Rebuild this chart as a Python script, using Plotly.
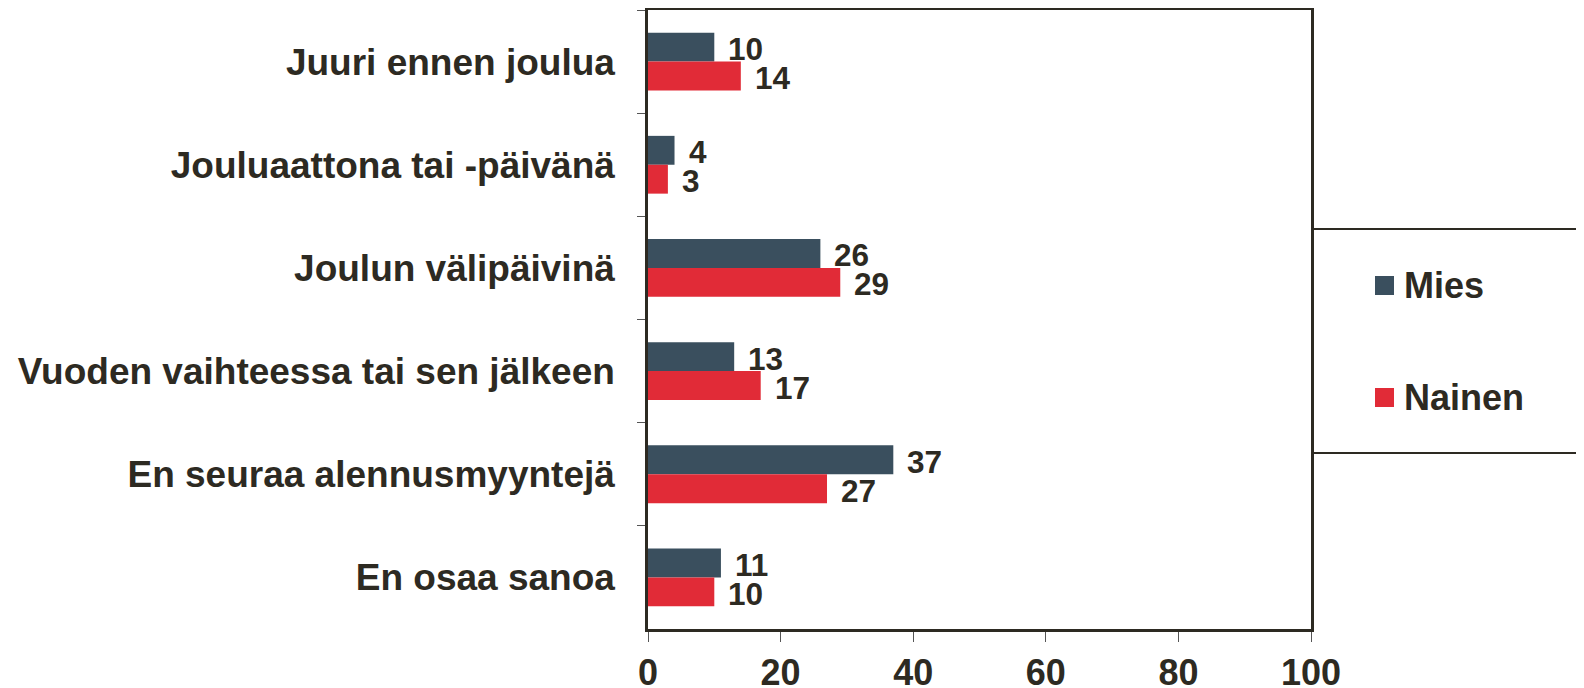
import plotly.graph_objects as go

categories = ["Juuri ennen joulua", "Jouluaattona tai -päivänä", "Joulun välipäivinä",
              "Vuoden vaihteessa tai sen jälkeen", "En seuraa alennusmyyntejä", "En osaa sanoa"]
mies = [10, 4, 26, 13, 37, 11]
nainen = [14, 3, 29, 17, 27, 10]
series_names = ["Mies", "Nainen"]
x_ticks = [0, 20, 40, 60, 80, 100]

COL_MIES = "#3a4f5e"
COL_NAINEN = "#e12b37"
TXT = "#2d2a22"
FONT = "Liberation Sans"

OFF = 8  # page body margin
W, H = 1584 - OFF, 688 - OFF
ML, MR, MT, MB = 648 - OFF, 273, 2, 59
plot_h = H - MT - MB
plot_w = W - ML - MR
BARGAP = 0.44
slot = plot_h / len(categories)
bar_h = slot * (1 - BARGAP) / 2

fig = go.Figure()
for name, vals, col in [(series_names[0], mies, COL_MIES), (series_names[1], nainen, COL_NAINEN)]:
    fig.add_trace(go.Bar(y=categories, x=vals, orientation="h", name=name,
                         marker=dict(color=col, line=dict(width=0)), showlegend=False))

annotations = []
for vals, shift in [(mies, bar_h / 2), (nainen, -bar_h / 2)]:
    for c, v in zip(categories, vals):
        annotations.append(dict(x=v, y=c, xref="x", yref="y", text=str(v), showarrow=False,
                                xanchor="left", yanchor="middle", xshift=12, yshift=shift - 2,
                                font=dict(family=FONT, size=31.5, color=TXT, weight="bold")))

# legend (manual), positions given in page pixels
def py(pix):
    return (H - MB - (pix - OFF)) / plot_h

def px(pix):
    return (pix - OFF - ML) / plot_w

legend_items = [(series_names[0], COL_MIES, 285.5), (series_names[1], COL_NAINEN, 397.5)]
shapes = []
for y0 in (229, 453):
    shapes.append(dict(type="line", xref="paper", yref="paper", x0=1, x1=px(1600),
                       y0=py(y0), y1=py(y0), line=dict(color=TXT, width=2)))
for name, col, cy in legend_items:
    shapes.append(dict(type="rect", xref="paper", yref="paper", x0=px(1375), x1=px(1394),
                       y0=py(cy - 9.5), y1=py(cy + 9.5), fillcolor=col, line=dict(width=0)))
    annotations.append(dict(x=px(1402), y=py(cy), xref="paper", yref="paper", text=name,
                            showarrow=False, xanchor="left", yanchor="middle",
                            font=dict(family=FONT, size=36, color=TXT, weight="bold")))

fig.update_layout(
    width=W, height=H, margin=dict(l=ML, r=MR, t=MT, b=MB, pad=0, autoexpand=False),
    paper_bgcolor="white", plot_bgcolor="white",
    barmode="group", bargap=BARGAP, bargroupgap=0,
    font=dict(family=FONT, color=TXT),
    showlegend=False,
    shapes=shapes, annotations=annotations,
    xaxis=dict(range=[0, 100], tickvals=x_ticks, ticks="outside", ticklen=10, tickwidth=1,
               tickcolor="#555555", showgrid=False, zeroline=False, automargin=False,
               showline=True, linecolor=TXT, linewidth=2.5, mirror=True,
               tickfont=dict(family=FONT, size=36, color=TXT, weight="bold")),
    yaxis=dict(autorange="reversed", ticks="outside", tickson="boundaries", ticklen=8,
               tickwidth=1, tickcolor="#555555", showgrid=False, zeroline=False,
               showline=True, linecolor=TXT, linewidth=2.5, mirror=True, automargin=False,
               ticklabelstandoff=23,
               tickfont=dict(family=FONT, size=37, color=TXT, weight="bold")),
)

fig.write_html("out.html")
